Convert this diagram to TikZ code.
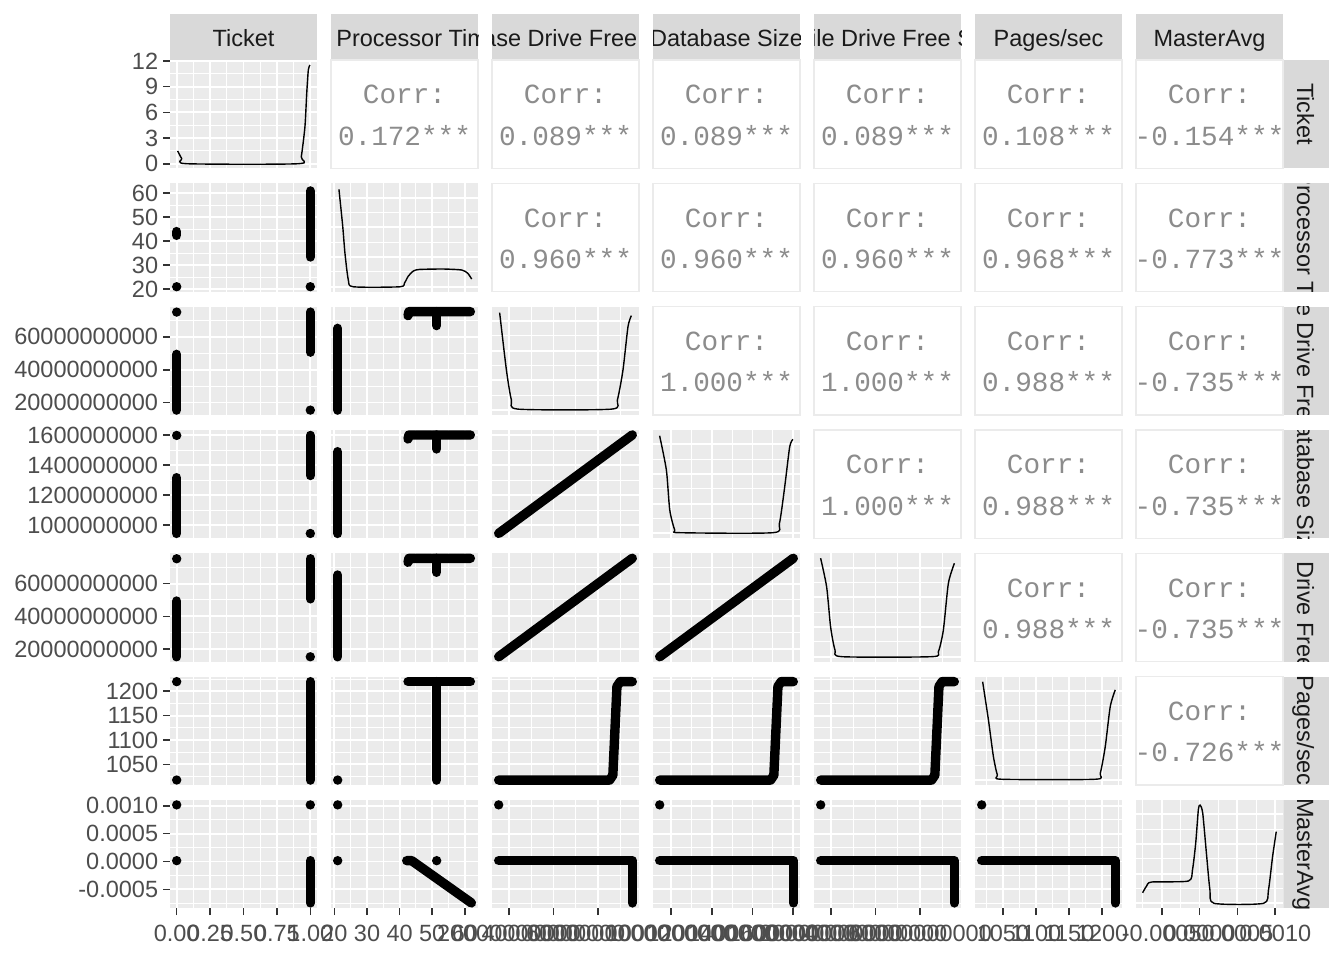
\documentclass[tikz,border=0pt]{standalone}
\usepackage{fontspec}
\setmainfont{Liberation Sans}
\newfontfamily\corrfont{Liberation Mono}
\definecolor{gridbg}{RGB}{235,235,235}
\definecolor{stripbg}{RGB}{217,217,217}
\definecolor{axistext}{RGB}{77,77,77}
\definecolor{striptext}{RGB}{26,26,26}
\definecolor{tickcol}{RGB}{51,51,51}
\definecolor{corrtext}{RGB}{140,140,140}
\tikzset{
  in panel/.style 2 args={shift={({170+161*(#2-1)},{168.33+123.333*(#1-1)})},x=147pt,y=108.33pt},
  major/.style={white,line width=1.9pt},
  minor/.style={white,line width=0.95pt},
  pts/.style={line width=9.4pt,line cap=round,line join=round},
  dens/.style={line width=1.4pt,line join=round},
  tick/.style={tickcol,line width=1.6pt},
  axlab/.style={text=axistext,font=\fontsize{23.5}{28}\selectfont,inner sep=0pt},
  striplab/.style={text=striptext,font=\fontsize{23.5}{28}\selectfont,inner sep=0pt},
  corrlab/.style={text=corrtext,font=\corrfont\fontsize{27.7}{32}\selectfont,inner sep=0pt,anchor=base},
  corrframe/.style={fill=white,draw=gridbg,line width=1.6pt},
}
\def\pagesname{Pages/sec}
\def\axA{.0455/0.00,.2727/0.25,.5/0.50,.7273/0.75,.9545/1.00}
\def\mnA{.1591,.3864,.6136,.8409}
\def\axB{.0233/20,.2451/30,.4669/40,.6886/50,.9104/60}
\def\mnB{.1342,.356,.5778,.7995}
\def\axC{.115/20000000000,.418/40000000000,.721/60000000000}
\def\mnC{.2665,.5695,.8725}
\def\axD{.123/1000000000,.400/1200000000,.677/1400000000,.954/1600000000}
\def\mnD{.2615,.5385,.8155}
\let\axE\axC
\let\mnE\mnC
\def\axF{.19/1050,.415/1100,.64/1150,.865/1200}
\def\mnF{.0775,.3025,.5275,.7525,.9775}
\def\axG{.175/-0.0005,.432/0.0000,.69/0.0005,.947/0.0010}
\def\mnG{.046,.3035,.561,.8185}
\def\axT{.0425/0,.2797/3,.5169/6,.754/9,.991/12}
\def\mnT{.161,.398,.635,.872}
\def\axK{.0455/,.3195/,.5935/,.8675/}
\def\mnK{.1825,.4565,.7305}
\newcommand\panelgrid[4]{%
  \fill[gridbg] (0,0) rectangle (1,1);
  \foreach \g in #2 {\draw[minor] (\g,0) -- (\g,1);}
  \foreach \g in #4 {\draw[minor] (0,\g) -- (1,\g);}
  \foreach \g/\t in #1 {\draw[major] (\g,0) -- (\g,1);}
  \foreach \g/\t in #3 {\draw[major] (0,\g) -- (1,\g);}}
\newcommand\lowerpanel[4]{%
  \begin{scope}[in panel={#1}{#2}]
    \expandafter\let\expandafter\xax\csname ax#4\endcsname
    \expandafter\let\expandafter\xmn\csname mn#4\endcsname
    \expandafter\let\expandafter\yax\csname ax#3\endcsname
    \expandafter\let\expandafter\ymn\csname mn#3\endcsname
    \panelgrid{\xax}{\xmn}{\yax}{\ymn}
  \end{scope}}
\newcommand\yaxis[2]{\foreach \g/\t [count=\k] in #1 {%
  \draw[tick] ([xshift=-7pt]0,\g) -- (0,\g);
  \node[axlab,anchor=east] (ylab-#2-\k) at ([xshift=-11.7pt]0,\g) {\t};}}
\newcommand\xaxis[2]{\foreach \g/\t [count=\k] in #1 {%
  \draw[tick] ([yshift=-6.7pt]\g,0) -- (\g,0);
  \node[axlab,anchor=north] (xlab-#2-\k) at ([yshift=-17pt]\g,0) {\t};}}
\begin{document}
\begin{tikzpicture}[x=1pt,y=-1pt]
\useasboundingbox (0,0) rectangle (1344,960);
\fill[white] (0,0) rectangle (1344,960);

\foreach \j/\name in {1/Ticket,2/\% Processor Time,3/Database Drive Free Space,4/Database Size,5/Log File Drive Free Space,6/\pagesname,7/MasterAvg}{
  \begin{scope}
    \clip ({170+161*(\j-1)},14) rectangle ++(147,46);
    \fill[stripbg] ({170+161*(\j-1)},14) rectangle ++(147,46);
    \node[striplab,anchor=base] (top-\j) at ({243.5+161*(\j-1)},46.7) {\name};
  \end{scope}
  \begin{scope}
    \clip (1283.3,{60+123.333*(\j-1)}) rectangle ++(45.7,108.33);
    \fill[stripbg] (1283.3,{60+123.333*(\j-1)}) rectangle ++(45.7,108.33);
    \node[striplab,anchor=base,rotate=-90] (side-\j) at (1297,{114.17+123.333*(\j-1)}) {\name};
  \end{scope}}

\foreach \i/\vi in {2/B,3/C,4/D,5/E,6/F,7/G}{
  \foreach \j/\vj in {1/A,2/B,3/C,4/D,5/E,6/F}{
    \ifnum\j<\i\relax \lowerpanel{\i}{\j}{\vi}{\vj}\fi}}

\foreach \i/\j/\v in {1/2/0.172,1/3/0.089,1/4/0.089,1/5/0.089,1/6/0.108,1/7/-0.154,
  2/3/0.960,2/4/0.960,2/5/0.960,2/6/0.968,2/7/-0.773,
  3/4/1.000,3/5/1.000,3/6/0.988,3/7/-0.735,
  4/5/1.000,4/6/0.988,4/7/-0.735,
  5/6/0.988,5/7/-0.735,
  6/7/-0.726}{
  \begin{scope}[in panel={\i}{\j}]
    \draw[corrframe] (0,0) rectangle (1,1);
    \node[corrlab] (corrhead-\i-\j) at (.5,.594) {Corr:};
    \node[corrlab] (corrval-\i-\j) at (.5,.215) {\v***};
  \end{scope}}

\begin{scope}[in panel={1}{1}]
  \panelgrid{\axA}{\mnA}{\axT}{\mnT}
  \draw[dens] plot[smooth,tension=.4] coordinates {(.052,.16) (.08,.09) (.113,.0425) (.873,.0425) (.893,.107) (.918,.384) (.93,.69) (.941,.908) (.952,.954)};
\end{scope}
\begin{scope}[in panel={2}{2}]
  \panelgrid{\axB}{\mnB}{\axK}{\mnK}
  \draw[dens] plot[smooth,tension=.4] coordinates {(.054,.945) (.08,.6) (.095,.354) (.118,.107) (.152,.045) (.469,.045) (.5,.08) (.526,.144) (.56,.19) (.6,.205) (.764,.209) (.889,.2) (.93,.17) (.957,.116)};
\end{scope}
\begin{scope}[in panel={3}{3}]
  \panelgrid{\axC}{\mnC}{\axK}{\mnK}
  \draw[dens] plot[smooth,tension=.4] coordinates {(.052,.945) (.098,.415) (.132,.14) (.178,.054) (.813,.054) (.853,.14) (.891,.415) (.925,.815) (.948,.917)};
\end{scope}
\begin{scope}[in panel={4}{4}]
  \panelgrid{\axD}{\mnD}{\axK}{\mnK}
  \draw[dens] plot[smooth,tension=.4] coordinates {(.045,.947) (.091,.63) (.114,.261) (.148,.077) (.182,.052) (.816,.052) (.86,.138) (.896,.476) (.93,.846) (.952,.914)};
\end{scope}
\begin{scope}[in panel={5}{5}]
  \panelgrid{\axE}{\mnE}{\axK}{\mnK}
  \draw[dens] plot[smooth,tension=.4] coordinates {(.045,.955) (.086,.69) (.113,.32) (.143,.108) (.189,.046) (.801,.046) (.846,.092) (.88,.292) (.914,.723) (.955,.908)};
\end{scope}
\begin{scope}[in panel={6}{6}]
  \panelgrid{\axF}{\mnF}{\axK}{\mnK}
  \draw[dens] plot[smooth,tension=.4] coordinates {(.052,.953) (.091,.604) (.125,.264) (.152,.093) (.182,.053) (.818,.053) (.852,.108) (.886,.354) (.92,.724) (.954,.878)};
\end{scope}
\begin{scope}[in panel={7}{7}]
  \panelgrid{\axG}{\mnG}{\axK}{\mnK}
  \draw[dens] plot[smooth,tension=.4] coordinates {(.045,.144) (.072,.206) (.106,.243) (.356,.252) (.384,.353) (.406,.6) (.424,.908) (.436,.954) (.454,.877) (.481,.477) (.503,.169) (.531,.046) (.867,.046) (.901,.169) (.929,.477) (.954,.708)};
\end{scope}

\begin{scope}[in panel={2}{1}]
  \draw[pts] (.0455,.52) -- (.0455,.555);
  \fill (.0455,.0455) circle[radius=4.7pt];
  \draw[pts] (.9545,.32) -- (.9545,.93);
  \fill (.9545,.0455) circle[radius=4.7pt];
\end{scope}
\foreach \i in {3,4,5}{
  \begin{scope}[in panel={\i}{1}]
    \fill (.0455,.95) circle[radius=4.7pt];
    \draw[pts] (.0455,.045) -- (.0455,.56);
    \draw[pts] (.9545,.58) -- (.9545,.95);
    \fill (.9545,.045) circle[radius=4.7pt];
  \end{scope}
  \begin{scope}[in panel={\i}{2}]
    \draw[pts] (.0455,.045) -- (.0455,.80);
    \draw[pts] (.524,.917) -- (.53,.954) -- (.948,.954);
    \draw[pts] (.719,.954) -- (.719,.825);
  \end{scope}}
\begin{scope}[in panel={6}{1}]
  \fill (.0455,.954) circle[radius=4.7pt];
  \fill (.0455,.046) circle[radius=4.7pt];
  \draw[pts] (.9545,.045) -- (.9545,.954);
\end{scope}
\begin{scope}[in panel={7}{1}]
  \fill (.0455,.955) circle[radius=4.7pt];
  \fill (.0455,.44) circle[radius=4.7pt];
  \fill (.9545,.955) circle[radius=4.7pt];
  \draw[pts] (.9545,.05) -- (.9545,.44);
\end{scope}
\begin{scope}[in panel={6}{2}]
  \fill (.0455,.0455) circle[radius=4.7pt];
  \draw[pts] (.524,.954) -- (.948,.954);
  \draw[pts] (.719,.954) -- (.719,.045);
\end{scope}
\begin{scope}[in panel={7}{2}]
  \fill (.0455,.955) circle[radius=4.7pt];
  \fill (.0455,.44) circle[radius=4.7pt];
  \fill (.719,.44) circle[radius=4.7pt];
  \draw[pts] (.515,.44) -- (.549,.44) -- (.955,.05);
\end{scope}
\foreach \i/\j in {4/3,5/3,5/4}{
  \begin{scope}[in panel={\i}{\j}]
    \draw[pts] (.0455,.0455) -- (.9545,.9545);
  \end{scope}}
\foreach \j in {3,4,5}{
  \begin{scope}[in panel={6}{\j}]
    \draw[pts] (.0455,.0455) -- (.80,.0455) -- (.822,.09) -- (.85,.91) -- (.872,.954) -- (.9545,.954);
  \end{scope}}
\foreach \j in {3,4,5,6}{
  \begin{scope}[in panel={7}{\j}]
    \fill (.0455,.955) circle[radius=4.7pt];
    \draw[pts] (.0455,.44) -- (.954,.44) -- (.954,.05);
  \end{scope}}

\foreach \i/\vi in {1/T,2/B,3/C,4/D,5/E,6/F,7/G}{
  \begin{scope}[in panel={\i}{1}]
    \expandafter\yaxis\csname ax\vi\endcsname{\i}
  \end{scope}}
\foreach \j/\vj in {1/A,2/B,3/C,4/D,5/E,6/F,7/G}{
  \begin{scope}[in panel={7}{\j}]
    \expandafter\xaxis\csname ax\vj\endcsname{\j}
  \end{scope}}
\end{tikzpicture}
\end{document}
